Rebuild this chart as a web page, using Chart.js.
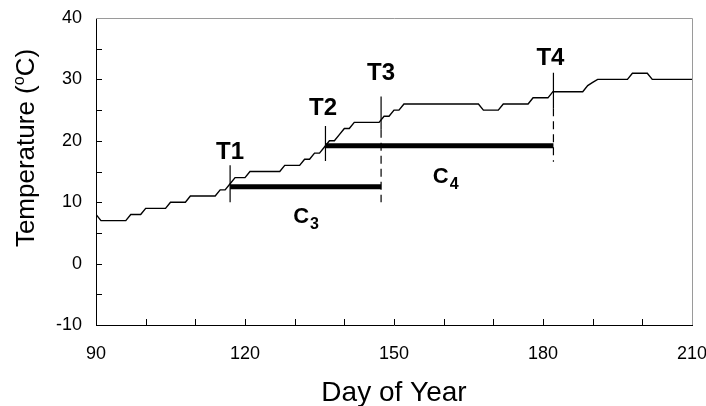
<!DOCTYPE html>
<html>
<head>
<meta charset="utf-8">
<script src="https://cdn.jsdelivr.net/npm/chart.js@4.4.1/dist/chart.umd.min.js"></script>
<style>
  html, body { margin: 0; padding: 0; background: #fff; }
</style>
</head>
<body>
<canvas id="chart" width="706" height="406"></canvas>
<script>
// day of year
var days = [
   90,  91,  92,  93,  94,  95,  96,  97,  98,  99,
  100, 101, 102, 103, 104, 105, 106, 107, 108, 109,
  110, 111, 112, 113, 114, 115, 116, 117, 118, 119,
  120, 121, 122, 123, 124, 125, 126, 127, 128, 129,
  130, 131, 132, 133, 134, 135, 136, 137, 138, 139,
  140, 141, 142, 143, 144, 145, 146, 147, 148, 149,
  150, 151, 152, 153, 154, 155, 156, 157, 158, 159,
  160, 161, 162, 163, 164, 165, 166, 167, 168, 169,
  170, 171, 172, 173, 174, 175, 176, 177, 178, 179,
  180, 181, 182, 183, 184, 185, 186, 187, 188, 189,
  190, 191, 192, 193, 194, 195, 196, 197, 198, 199,
  200, 201, 202, 203, 204, 205, 206, 207, 208, 209,
  210
];
// temperature (oC)
var temps = [
   8,  7,  7,  7,  7,  7,  7,  8,  8,  8,
   9,  9,  9,  9,  9, 10, 10, 10, 10, 11,
  11, 11, 11, 11, 11, 12, 12, 13, 14, 14,
  14, 15, 15, 15, 15, 15, 15, 15, 16, 16,
  16, 16, 17, 17, 18, 18, 19, 20, 20, 21,
  22, 22, 23, 23, 23, 23, 23, 23, 24, 24,
  25, 25, 26, 26, 26, 26, 26, 26, 26, 26,
  26, 26, 26, 26, 26, 26, 26, 26, 25, 25,
  25, 25, 26, 26, 26, 26, 26, 26, 27, 27,
  27, 27, 28, 28, 28, 28, 28, 28, 28, 29,
  29.5, 30, 30, 30, 30, 30, 30, 30, 31, 31,
  31, 31, 30, 30, 30, 30, 30, 30, 30, 30,
  30
];

// T markers: day, top, bottom of solid part, bottom of dashed part
var markerNames = ['T1', 'T2', 'T3', 'T4'];
var markerDays = [117, 136.2, 147.4, 182.1];
var markerTops = [16, 22.4, 27.2, 31.1];
var markerSolidEnds = [10, 16.7, 21.8, 25.3];
var markerDashEnds = [10, 16.7, 10, 16.6];
var markerLabelDays = [117, 135.7, 147.4, 181.5];
var markerLabelTemps = [17.0, 24.2, 29.9, 32.3];

// C periods: start day, end day, level
var periodNames = ['3', '4'];
var periodStarts = [117, 136.2];
var periodEnds = [147.4, 182.1];
var periodLevels = [12.5, 19.2];
var periodLabelDays = [129.7, 157.8];
var periodLabelTemps = [6.6, 13.1];

var xTicks = [90, 120, 150, 180, 210];
var yTicks = [-10, 0, 10, 20, 30, 40];

var FONT = '"Liberation Sans", Arial, Helvetica, sans-serif';

var datasets = [];
datasets.push({
  data: days.map(function(d, i) { return {x: d, y: temps[i]}; }),
  borderColor: '#000', borderWidth: 1.4
});
periodStarts.forEach(function(s, i) {
  datasets.push({
    data: [{x: s, y: periodLevels[i]}, {x: periodEnds[i], y: periodLevels[i]}],
    borderColor: '#000', borderWidth: 5, borderCapStyle: 'butt'
  });
});
markerDays.forEach(function(d, i) {
  datasets.push({
    data: [{x: d, y: markerTops[i]}, {x: d, y: markerSolidEnds[i]}],
    borderColor: '#000', borderWidth: 1.2
  });
  if (markerDashEnds[i] < markerSolidEnds[i]) {
    datasets.push({
      data: [{x: d, y: markerSolidEnds[i]}, {x: d, y: markerDashEnds[i]}],
      borderColor: '#000', borderWidth: 1.2, borderDash: [8, 5]
    });
  }
});

var decorPlugin = {
  id: 'decor',
  afterDraw: function(chart) {
    var ctx = chart.ctx;
    var xs = chart.scales.x, ys = chart.scales.y;
    var a = chart.chartArea;
    ctx.save();

    // grey frame on top and right
    ctx.strokeStyle = '#9a9a9a';
    ctx.lineWidth = 1;
    ctx.beginPath();
    ctx.moveTo(a.left, Math.round(a.top) + 0.5);
    ctx.lineTo(Math.round(a.right) + 0.5, Math.round(a.top) + 0.5);
    ctx.lineTo(Math.round(a.right) + 0.5, a.bottom);
    ctx.stroke();

    // inward tick marks
    ctx.strokeStyle = '#000';
    ctx.beginPath();
    xs.ticks.forEach(function(t) {
      if (t.value <= xs.min || t.value >= xs.max) return;
      var px = Math.round(xs.getPixelForValue(t.value)) + 0.5;
      ctx.moveTo(px, a.bottom);
      ctx.lineTo(px, a.bottom - 6);
    });
    ys.ticks.forEach(function(t) {
      if (t.value <= ys.min || t.value >= ys.max) return;
      var py = Math.round(ys.getPixelForValue(t.value)) + 0.5;
      ctx.moveTo(a.left, py);
      ctx.lineTo(a.left + 6, py);
    });
    ctx.stroke();

    ctx.fillStyle = '#000';
    ctx.textBaseline = 'alphabetic';

    // T labels
    ctx.font = 'bold 24px ' + FONT;
    ctx.textAlign = 'center';
    markerNames.forEach(function(n, i) {
      ctx.fillText(n, xs.getPixelForValue(markerLabelDays[i]), ys.getPixelForValue(markerLabelTemps[i]));
    });

    // C labels with subscripts
    ctx.textAlign = 'left';
    periodNames.forEach(function(n, i) {
      var px = xs.getPixelForValue(periodLabelDays[i]);
      var py = ys.getPixelForValue(periodLabelTemps[i]);
      ctx.font = 'bold 22px ' + FONT;
      ctx.fillText('C', px, py);
      var w = ctx.measureText('C').width;
      ctx.font = 'bold 16px ' + FONT;
      ctx.fillText(n, px + w + 1, py + 6);
    });

    // x title
    ctx.font = '28px ' + FONT;
    ctx.textAlign = 'center';
    ctx.fillText('Day of Year', (a.left + a.right) / 2, 401);

    // y title with superscript
    var p1 = 'Temperature (', p2 = 'o', p3 = 'C)';
    ctx.font = '26px ' + FONT;
    var w1 = ctx.measureText(p1).width, w3 = ctx.measureText(p3).width;
    ctx.font = '16px ' + FONT;
    var w2 = ctx.measureText(p2).width;
    var total = w1 + w2 + w3;
    ctx.translate(34, 148 + total / 2);
    ctx.rotate(-Math.PI / 2);
    ctx.textAlign = 'left';
    ctx.font = '26px ' + FONT;
    ctx.fillText(p1, 0, 0);
    ctx.font = '16px ' + FONT;
    ctx.fillText(p2, w1, -10);
    ctx.font = '26px ' + FONT;
    ctx.fillText(p3, w1 + w2, 0);

    ctx.restore();
  }
};

new Chart(document.getElementById('chart'), {
  type: 'line',
  data: {datasets: datasets},
  plugins: [decorPlugin],
  options: {
    responsive: false,
    animation: false,
    layout: {padding: {top: 18, right: 14, left: 0, bottom: 0}},
    plugins: {legend: {display: false}, tooltip: {enabled: false}},
    elements: {point: {radius: 0}, line: {tension: 0, fill: false}},
    scales: {
      x: {
        type: 'linear', min: 90, max: 210,
        ticks: {
          stepSize: 10, autoSkip: false, maxRotation: 0, padding: 18,
          color: '#000', font: {family: FONT, size: 18},
          callback: function(v) { return xTicks.indexOf(v) >= 0 ? String(v) : ''; }
        },
        grid: {drawOnChartArea: false, drawTicks: false},
        border: {color: '#000', width: 1},
        afterFit: function(s) { s.height = 81; s.paddingLeft = 0; s.paddingRight = 0; }
      },
      y: {
        type: 'linear', min: -10, max: 40,
        ticks: {
          stepSize: 5, autoSkip: false, padding: 14,
          color: '#000', font: {family: FONT, size: 18},
          callback: function(v) { return yTicks.indexOf(v) >= 0 ? String(v) : ''; }
        },
        grid: {drawOnChartArea: false, drawTicks: false},
        border: {color: '#000', width: 1},
        afterFit: function(s) { s.width = 96; s.paddingTop = 0; s.paddingBottom = 0; }
      }
    }
  }
});
</script>
</body>
</html>
